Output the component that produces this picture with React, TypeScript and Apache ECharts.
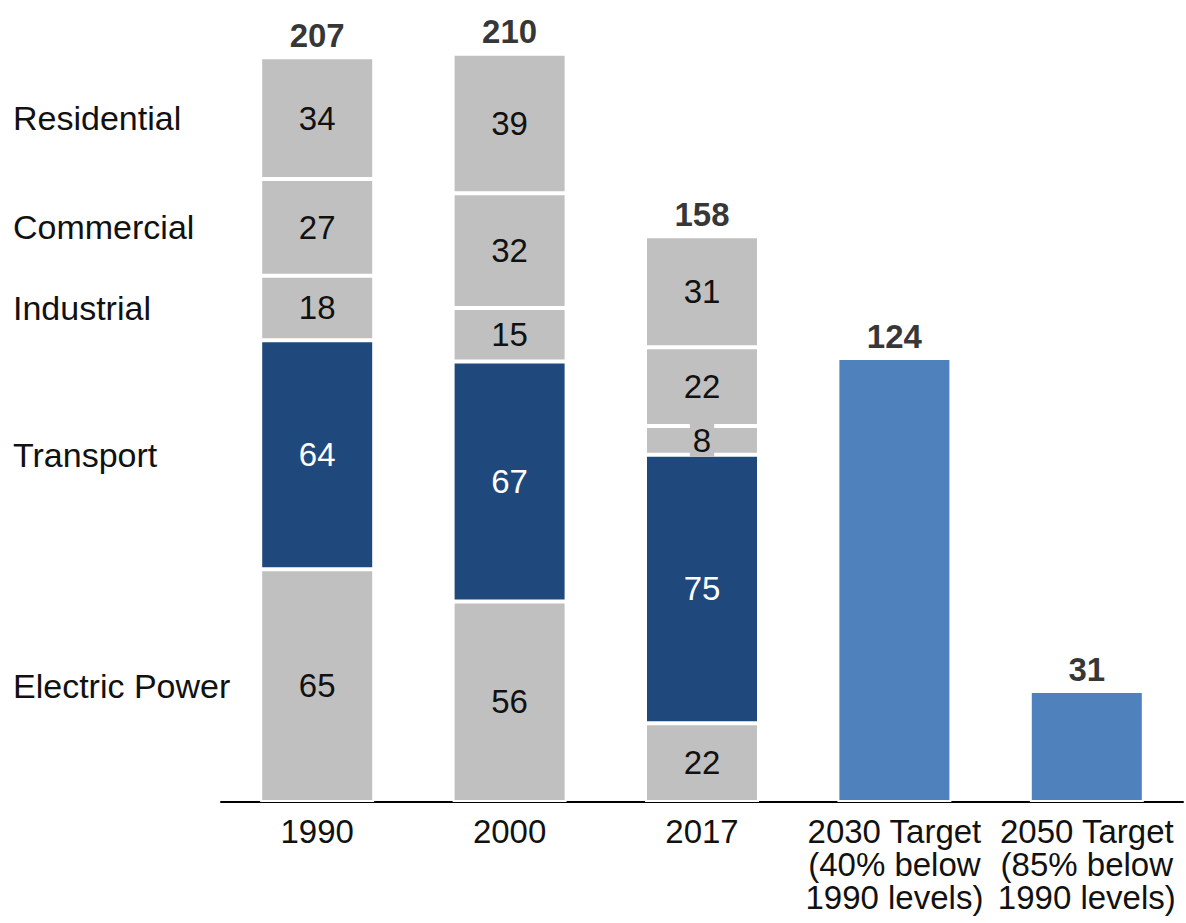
import React, { useEffect, useRef } from "react";
import * as echarts from "echarts";

const categories = [
  "1990",
  "2000",
  "2017",
  "2030 Target\n(40% below\n1990 levels)",
  "2050 Target\n(85% below\n1990 levels)",
];
const sectorNames = ["Electric Power", "Transport", "Industrial", "Commercial", "Residential"];
const electricPower = [65, 56, 22, null, null];
const transport = [64, 67, 75, null, null];
const industrial = [18, 15, 8, null, null];
const commercial = [27, 32, 22, null, null];
const residential = [34, 39, 31, null, null];
const targets = [null, null, null, 124, 31];
const totals = [207, 210, 158, 124, 31];

const GRAY = "#c0c0c0";
const DARK = "#1f497d";
const LIGHT = "#4f81bd";
const TEXT = "#111111";
const FONT = "'Liberation Sans', Arial, sans-serif";
const FS = 33;

export default function App() {
  const ref = useRef<HTMLDivElement>(null);

  useEffect(() => {
    if (!ref.current) return;
    const chart = echarts.init(ref.current, undefined, { renderer: "svg" });

    const sectorData = [electricPower, transport, industrial, commercial, residential];
    const sectorColors = [GRAY, DARK, GRAY, GRAY, GRAY];
    const labelColors = [TEXT, "#ffffff", TEXT, TEXT, TEXT];

    const stackTop = categories.map((_, i) => {
      let s = 0;
      sectorData.forEach((arr) => (s += arr[i] ?? 0));
      s += targets[i] ?? 0;
      return s;
    });

    const barSeries: any[] = sectorData.map((arr, k) => ({
      name: sectorNames[k],
      type: "bar",
      stack: "total",
      barWidth: 114,
      data: arr.map((v) => (v == null ? "-" : v)),
      itemStyle: { color: sectorColors[k], borderColor: "#ffffff", borderWidth: 2 },
      label: {
        show: true,
        position: "inside",
        color: labelColors[k],
        fontSize: FS,
        fontFamily: FONT,
        backgroundColor: sectorColors[k],
        padding: [0, 3],
      },
    }));

    barSeries.push({
      name: "Target",
      type: "bar",
      stack: "total",
      barWidth: 114,
      data: targets.map((v) => (v == null ? "-" : v)),
      itemStyle: { color: LIGHT, borderColor: "#ffffff", borderWidth: 2 },
    });

    barSeries.push({
      name: "Totals",
      type: "scatter",
      symbolSize: 1,
      itemStyle: { color: "rgba(0,0,0,0)" },
      z: 10,
      data: stackTop.map((v, i) => [i, v]),
      label: {
        show: true,
        position: "top",
        distance: 5,
        fontSize: FS,
        fontWeight: "bold",
        fontFamily: FONT,
        color: "#000000",
        formatter: (p: any) => String(totals[p.dataIndex]),
      },
    });

    chart.setOption({
      animation: false,
      grid: { left: 221, right: 3, top: 0, bottom: 121, containLabel: false },
      xAxis: {
        type: "category",
        data: categories,
        axisLine: { show: true, lineStyle: { color: "#000000", width: 2 } },
        axisTick: { show: false },
        axisLabel: {
          interval: 0,
          fontSize: FS,
          lineHeight: 33,
          margin: 13,
          color: TEXT,
          fontFamily: FONT,
        },
      },
      yAxis: {
        type: "value",
        min: 0,
        max: 224,
        show: false,
        splitLine: { show: false },
      },
      series: barSeries,
    });

    // Sector names at the middle of each 1990 segment
    let cum = 0;
    const graphics: any[] = [];
    sectorData.forEach((arr, k) => {
      const v = arr[0] ?? 0;
      const mid = cum + v / 2;
      cum += v;
      const pt = chart.convertToPixel({ gridIndex: 0 }, [0, mid]) as number[];
      graphics.push({
        type: "text",
        x: 13,
        y: pt[1],
        style: {
          text: sectorNames[k],
          fill: TEXT,
          font: `34px ${FONT}`,
          align: "left",
          verticalAlign: "middle",
        },
      });
    });
    chart.setOption({ graphic: graphics });

    return () => chart.dispose();
  }, []);

  return (
    <div
      ref={ref}
      style={{ position: "absolute", left: 0, top: 0, width: 1186, height: 923, background: "#fff" }}
    />
  );
}
